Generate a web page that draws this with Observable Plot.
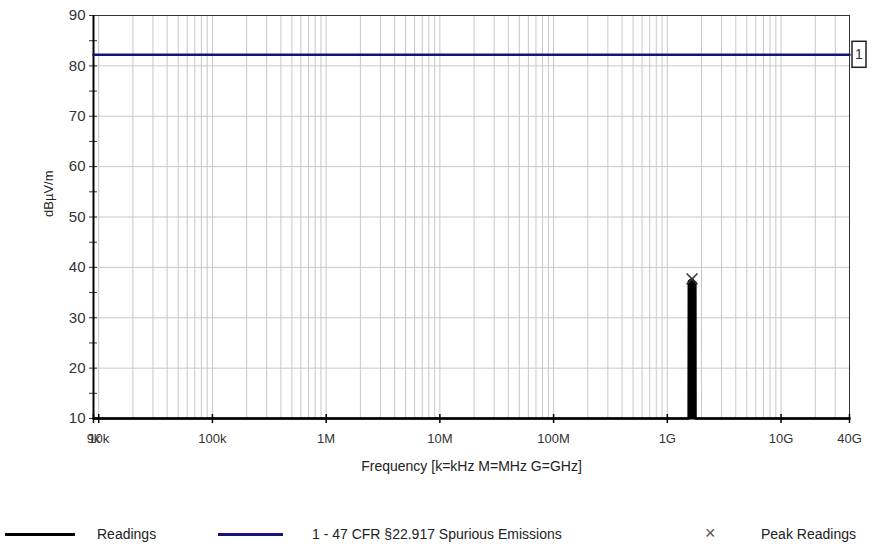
<!DOCTYPE html>
<html>
<head>
<meta charset="utf-8">
<script src="https://cdn.jsdelivr.net/npm/d3@7"></script>
<script src="https://cdn.jsdelivr.net/npm/@observablehq/plot@0.6"></script>
<style>
  body { margin: 0; background: #fff; font-family: "Liberation Sans", Arial, sans-serif; }
  #wrap { position: relative; width: 879px; height: 555px; }
  #legend { position: absolute; left: 0; top: 523px; width: 879px; height: 22px; font-size: 14px; color: #222; }
  #legend .item { position: absolute; top: 0; line-height: 22px; white-space: nowrap; }
  #legend .sw { position: absolute; top: 10px; height: 3px; }
</style>
</head>
<body>
<div id="wrap">
  <div id="chart"></div>
  <div id="legend">
    <div class="sw" style="left:5px;width:70px;background:#000;"></div>
    <div class="item" style="left:97px;">Readings</div>
    <div class="sw" style="left:218px;width:65px;background:#14147a;"></div>
    <div class="item" style="left:312px;">1 - 47 CFR §22.917 Spurious Emissions</div>
    <div class="item" style="left:705px;color:#555;font-size:18px;top:-1px;">×</div>
    <div class="item" style="left:761px;">Peak Readings</div>
  </div>
</div>
<script>
// Readings (frequency in Hz, level in dBµV/m)
const readingFreq  = [9e3, 1e6, 1e8, 1.54e9, 1.545e9, 1.6e9, 1.65e9, 1.7e9, 1.765e9, 1.77e9, 1e10, 4e10];
const readingLevel = [10, 10, 10, 10, 37.2, 37.5, 37.7, 37.3, 37.0, 10, 10, 10];
// Peak readings
const peakFreq  = [1.65e9];
const peakLevel = [37.7];
// Limit line
const limitFreq  = [9e3, 4e10];
const limitLevel = [82.2, 82.2];
const limitLabel = "1";
// Axis ticks
const xTickValues = [9e3, 1e4, 1e5, 1e6, 1e7, 1e8, 1e9, 1e10, 4e10];
const xTickLabels = ["9k", "10k", "100k", "1M", "10M", "100M", "1G", "10G", "40G"];
const yTickValues = [10, 20, 30, 40, 50, 60, 70, 80, 90];
const yMinorValues = [15, 25, 35, 45, 55, 65, 75, 85];

const readings = readingFreq.map((f, i) => ({f, v: readingLevel[i]}));
const peaks = peakFreq.map((f, i) => ({f, v: peakLevel[i]}));
const limit = limitFreq.map((f, i) => ({f, v: limitLevel[i]}));
const xTicks = xTickValues.map((v, i) => ({v, label: xTickLabels[i]}));

// vertical grid: 1..9 x each decade
const xGrid = [];
for (let e = 4; e <= 9; e++) for (let m = 1; m <= 9; m++) xGrid.push(m * 10 ** e);
xGrid.push(1e10, 2e10, 3e10, 4e10);

const boxMark = (index, scales) => {
  const g = d3.create("svg:g");
  const x = scales.x(limitFreq[limitFreq.length - 1]);
  const y = scales.y(limitLevel[limitLevel.length - 1]);
  g.append("rect").attr("x", x + 3).attr("y", y - 13).attr("width", 14).attr("height", 26)
    .attr("fill", "#fff").attr("stroke", "#222").attr("stroke-width", 1.5);
  g.append("text").attr("x", x + 10).attr("y", y).attr("dy", "0.35em").attr("text-anchor", "middle")
    .attr("font-size", 14).attr("fill", "#333").text(limitLabel);
  return g.node();
};

const chart = Plot.plot({
  width: 879,
  height: 490,
  marginTop: 15,
  marginLeft: 93,
  marginRight: 30,
  marginBottom: 72,
  style: { fontFamily: "Liberation Sans, Arial, sans-serif", fontSize: "13px", color: "#333", background: "#fff" },
  x: { type: "log", domain: [9e3, 4e10], axis: null },
  y: { domain: [10, 90], axis: null },
  marks: [
    Plot.ruleX(xGrid, { stroke: "#c8c8c8", strokeWidth: 1 }),
    Plot.ruleY(yTickValues.slice(1, -1), { stroke: "#c8c8c8", strokeWidth: 1 }),
    Plot.frame({ stroke: "#333", strokeWidth: 1 }),
    Plot.ruleX(xTicks, { x: "v", y1: 10, y2: 10, insetTop: -4, insetBottom: -5, stroke: "#000", strokeWidth: 1.5 }),
    Plot.text(xTicks, { x: "v", text: "label", frameAnchor: "bottom", dy: 24, fontSize: 13, fill: "#333" }),
    Plot.axisY({ ticks: yTickValues, tickSize: 4, tickPadding: 4, fontSize: 15, label: null }),
    Plot.axisY({ ticks: yTickValues, tickFormat: () => "", tickSize: -4, label: null }),
    Plot.axisY({ ticks: yMinorValues, tickFormat: () => "", tickSize: 4, label: null }),
    Plot.axisY({ ticks: yMinorValues, tickFormat: () => "", tickSize: -4, label: null }),
    Plot.text(["Frequency [k=kHz M=MHz G=GHz]"], { frameAnchor: "bottom", dy: 52, fontSize: 14, fill: "#222" }),
    Plot.text(["dBµV/m"], { frameAnchor: "left", dx: -45, rotate: -90, fontSize: 13, fill: "#222" }),
    Plot.ruleX([9e3], { stroke: "#000", strokeWidth: 2 }),
    Plot.ruleY([10], { stroke: "#000", strokeWidth: 2 }),
    Plot.areaY(readings, { x: "f", y1: 10, y2: "v", fill: "#000" }),
    Plot.line(readings, { x: "f", y: "v", stroke: "#000", strokeWidth: 2.5 }),
    Plot.line(limit, { x: "f", y: "v", stroke: "#14147a", strokeWidth: 2.5 }),
    Plot.dot(peaks, { x: "f", y: "v", symbol: "times", r: 5, stroke: "#333", strokeWidth: 1.5 }),
    boxMark
  ]
});
document.getElementById("chart").appendChild(chart);
</script>
</body>
</html>
